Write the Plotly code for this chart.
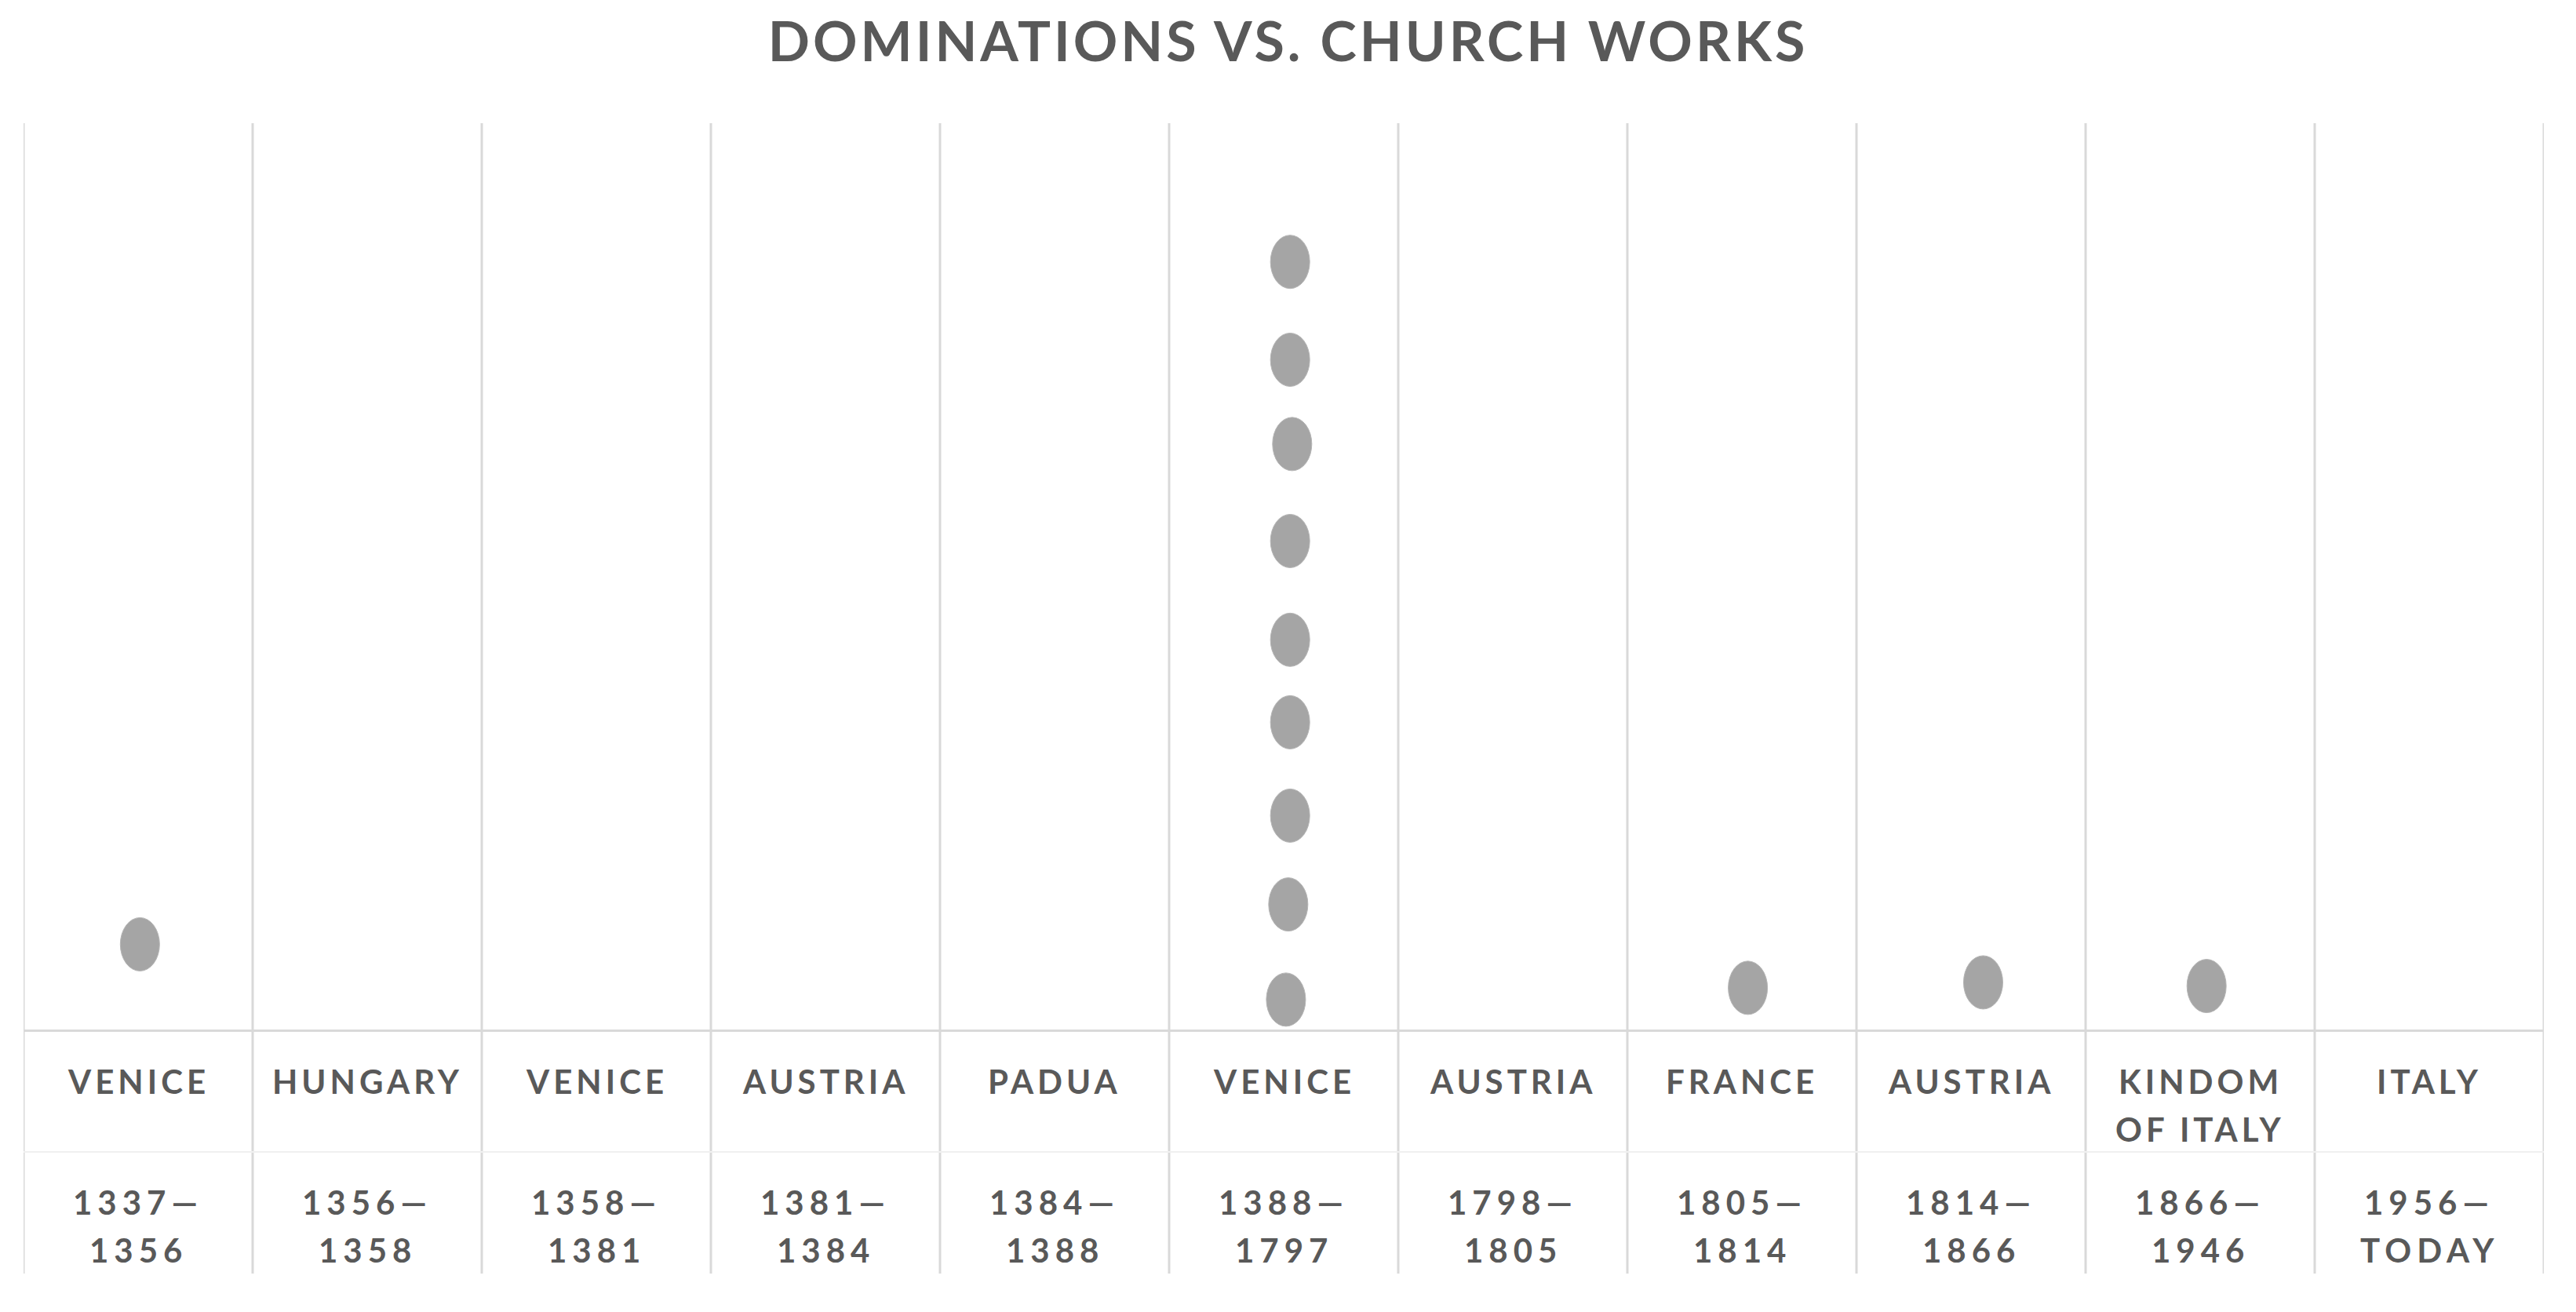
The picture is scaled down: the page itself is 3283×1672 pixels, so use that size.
import plotly.graph_objects as go

# ---- data ----
dominations = ["VENICE", "HUNGARY", "VENICE", "AUSTRIA", "PADUA", "VENICE",
               "AUSTRIA", "FRANCE", "AUSTRIA", "KINDOM OF ITALY", "ITALY"]
period_start = ["1337", "1356", "1358", "1381", "1384", "1388",
                "1798", "1805", "1814", "1866", "1956"]
period_end = ["1356", "1358", "1381", "1384", "1388", "1797",
              "1805", "1814", "1866", "1946", "TODAY"]

# church works (x = domination index, y = value on chart scale)
works_x = [0.008, 5.028, 5.028, 5.037, 5.028, 5.028, 5.028, 5.028, 5.020, 5.010,
           7.026, 8.053, 9.028]
works_y = [0.94, 8.47, 7.39, 6.46, 5.39, 4.30, 3.39, 2.36, 1.38, 0.33,
           0.46, 0.52, 0.48]

# ---- style ----
OFF = 8                      # page body margin
W, H = 3283 - OFF, 1672 - OFF
PLOT_TOP, PLOT_BOT = 157 - OFF, 1312 - OFF
M_L, M_R = 30 - OFF, 3283 - 3242
M_T, M_B = PLOT_TOP, H - PLOT_BOT
PLOT_H = PLOT_BOT - PLOT_TOP
TEXT = "#595959"
GRID = "#D9D9D9"
DOT = "#A5A5A5"
FONT = "Lato"


def paper_y(px):
    """reference pixel row (from window top) -> paper y"""
    return (PLOT_BOT - (px - OFF)) / PLOT_H


def spaced(s, px):
    return f'<span style="letter-spacing:{px}px">{s}</span>'


n = len(dominations)
fig = go.Figure()

fig.add_trace(go.Scatter(
    x=works_x, y=works_y, mode="markers",
    marker=dict(size=50, color="rgba(0,0,0,0)"),
    hovertext=[dominations[round(v)] for v in works_x],
    hoverinfo="text", showlegend=False,
))

shapes = []
# vertical category separators (plot + label area)
for i in range(n + 1):
    shapes.append(dict(type="line", xref="x", yref="paper",
                       x0=i - 0.5, x1=i - 0.5, y0=paper_y(1623), y1=1,
                       line=dict(color=GRID, width=3), layer="below"))
# faint separator between label rows
shapes.append(dict(type="line", xref="paper", yref="paper",
                   x0=0, x1=1, y0=paper_y(1468), y1=paper_y(1468),
                   line=dict(color="#F0F0F0", width=2), layer="below"))
# elliptical markers anchored at data points
for xv, yv in zip(works_x, works_y):
    shapes.append(dict(type="circle", xref="x", yref="y",
                       xsizemode="pixel", ysizemode="pixel",
                       xanchor=xv, yanchor=yv,
                       x0=-25, x1=25, y0=-34, y1=34,
                       fillcolor=DOT, line=dict(color="#B5B5B5", width=1),
                       layer="above"))

label_font = dict(family=FONT, size=42, color=TEXT, weight="bold")
annotations = []


def add_line(i, txt, row_px, sp):
    annotations.append(dict(
        x=i, xref="x", y=paper_y(row_px), yref="paper",
        yanchor="middle", xanchor="center", showarrow=False,
        text=spaced(txt, sp), font=label_font,
    ))


for i in range(n):
    name = dominations[i]
    name_lines = ["KINDOM", "OF ITALY"] if name == "KINDOM OF ITALY" else [name]
    for k, ln in enumerate(name_lines):
        add_line(i, ln, 1378 + 61 * k, 5)
    add_line(i, period_start[i] + "—", 1532, 7)
    add_line(i, period_end[i], 1593, 7)

fig.update_layout(
    width=W, height=H,
    margin=dict(l=M_L, r=M_R, t=M_T, b=M_B, pad=0),
    paper_bgcolor="white", plot_bgcolor="white",
    title=dict(text=spaced("DOMINATIONS VS. CHURCH WORKS", 4),
               x=(3283 / 2 - OFF) / W, xanchor="center",
               y=1 - (53 - OFF) / H, yanchor="middle",
               font=dict(family=FONT, size=70, color=TEXT, weight="bold")),
    xaxis=dict(range=[-0.5, n - 0.5], showgrid=False, zeroline=False,
               showticklabels=False, ticks="", showline=True,
               linecolor=GRID, linewidth=3),
    yaxis=dict(range=[0, 10], showgrid=False, zeroline=False,
               showticklabels=False, ticks="", showline=False),
    shapes=shapes, annotations=annotations,
)

fig.write_html("out.html")
